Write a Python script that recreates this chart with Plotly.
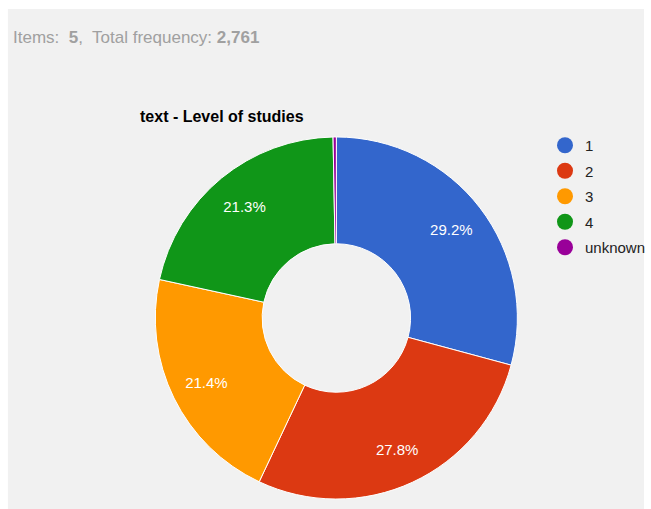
import plotly.graph_objects as go

# Level of studies: frequency per answer category
categories = ["1", "2", "3", "4", "unknown"]
counts = [806, 768, 591, 588, 8]
colors = ["#3366cc", "#dc3912", "#ff9900", "#109618", "#990099"]

total = sum(counts)
W, H = 651, 509
pie_domain = dict(x=[157 / W, 523 / W], y=[8 / H, 374 / H])

fig = go.Figure()

# Donut, clockwise from 12 o'clock
fig.add_trace(go.Pie(
    labels=categories,
    values=counts,
    sort=False,
    direction="clockwise",
    rotation=0,
    hole=0.41,
    marker=dict(colors=colors, line=dict(color="#ffffff", width=1)),
    textinfo="none",
    showlegend=False,
    hoverinfo="label+value+percent",
    domain=pie_domain,
))

# Percentage labels sit in the outer part of the ring; tiny slices get none
fig.add_trace(go.Pie(
    labels=categories,
    values=counts,
    sort=False,
    direction="clockwise",
    rotation=0,
    hole=0.6,
    marker=dict(colors=["rgba(0,0,0,0)"] * len(categories), line=dict(width=0)),
    texttemplate=["%{percent:.1%}"] * 4 + [""],
    textposition="inside",
    insidetextorientation="horizontal",
    textfont=dict(family="Liberation Sans, Arial", size=15, color="#ffffff"),
    showlegend=False,
    hoverinfo="skip",
    domain=pie_domain,
))

# Legend entries with round swatches
for i, (cat, col) in enumerate(zip(categories, colors)):
    fig.add_trace(go.Scatter(
        x=[None], y=[None], mode="markers", name=cat,
        legendgroup=f"g{i}",
        marker=dict(symbol="circle", size=16, color=col),
        showlegend=True,
    ))

fig.update_layout(
    width=W, height=H,
    margin=dict(l=0, r=0, t=0, b=0),
    paper_bgcolor="#ffffff",
    plot_bgcolor="rgba(0,0,0,0)",
    xaxis=dict(visible=False),
    yaxis=dict(visible=False),
    font=dict(family="Liberation Sans, Arial", size=15, color="#222222"),
    legend=dict(
        x=551 / W, xanchor="left",
        y=1 - 129 / H, yanchor="top",
        bgcolor="rgba(0,0,0,0)",
        traceorder="grouped",
        tracegroupgap=3,
        font=dict(size=15, color="#222222"),
    ),
    shapes=[dict(
        type="rect", xref="paper", yref="paper",
        x0=8 / W, x1=1, y0=0, y1=1 - 9 / H,
        fillcolor="#f1f1f1", line=dict(width=0), layer="below",
    )],
    annotations=[
        dict(
            text=f"Items:  <b>{len(categories)}</b>,  Total frequency: <b>{total:,}</b>",
            xref="paper", yref="paper", x=11 / W, y=1 - 38 / H,
            xanchor="left", yanchor="middle", showarrow=False,
            font=dict(size=17, color="#a0a0a0"),
        ),
        dict(
            text="<b>text - Level of studies</b>",
            xref="paper", yref="paper", x=139 / W, y=1 - 116 / H,
            xanchor="left", yanchor="middle", showarrow=False,
            font=dict(size=16, color="#000000"),
        ),
    ],
)

fig.write_html("out.html")
